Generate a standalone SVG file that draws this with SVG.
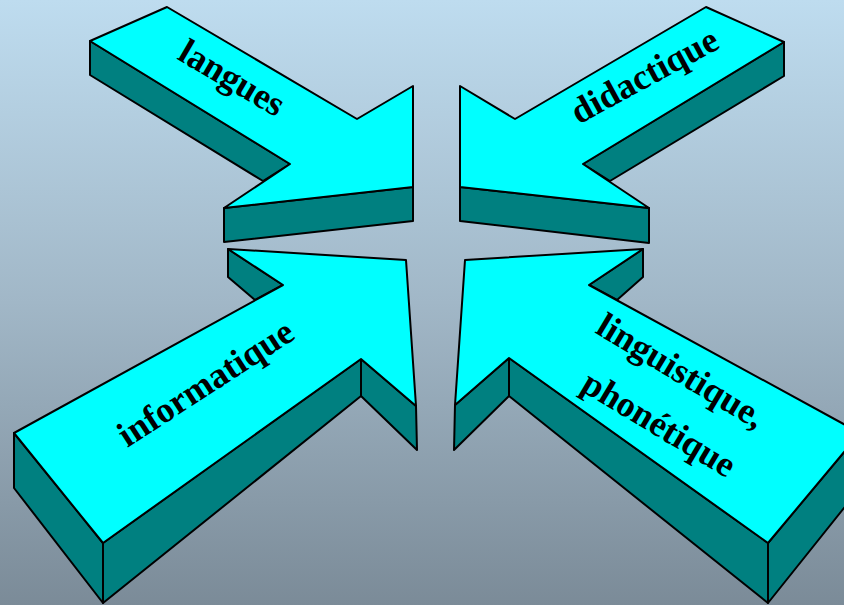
<svg xmlns="http://www.w3.org/2000/svg" width="844" height="605" viewBox="0 0 844 605">
<defs>
<linearGradient id="bg" x1="0" y1="0" x2="0" y2="1">
<stop offset="0" stop-color="#bedcef"/>
<stop offset="0.5" stop-color="#a1b7c7"/>
<stop offset="1" stop-color="#7b8b98"/>
</linearGradient>
</defs>
<style>
.top{fill:#00ffff;stroke:#000;stroke-width:2;stroke-linejoin:round}
.side{fill:#008080;stroke:#000;stroke-width:2;stroke-linejoin:round}
.lbl{font-family:"Liberation Serif","Times New Roman",serif;font-weight:bold;font-size:36px;fill:#000;text-anchor:middle}
</style>
<rect x="0" y="0" width="844" height="605" fill="url(#bg)"/>
<g id="connectors"></g>
<g id="arrow-langues">
<polygon class="side" points="90,41 290,164 263,181 90,75"/>
<polygon class="side" points="224,208 413,187 413,221 224,242"/>
<polygon class="top" points="90,41 167,7 357,119 413,86 413,187 224,208 290,164"/>
<text class="lbl" transform="translate(226,88) rotate(30.5)">langues</text>
</g>
<g id="arrow-didactique">
<polygon class="side" points="784,42 583,164 610,181 784,76"/>
<polygon class="side" points="649,208 460,187 460,221 649,243"/>
<polygon class="top" points="706,7 784,42 583,164 649,208 460,187 460,86 515,119"/>
<text class="lbl" transform="translate(650,86) rotate(-28.5)">didactique</text>
</g>
<g id="arrow-informatique">
<polygon class="side" points="14,433 103,543 103,603 14,488"/>
<polygon class="side" points="103,543 361,359 361,396 103,603"/>
<polygon class="side" points="361,359 416,406 417,450 361,396"/>
<polygon class="side" points="228,249 283,285 255,300 228,277"/>
<polygon class="top" points="14,433 103,543 361,359 416,406 406,260 228,249 283,285"/>
<text class="lbl" transform="translate(212,393) rotate(-33)">informatique</text>
</g>
<g id="arrow-linguistique">
<polygon class="side" points="768,543 860,433 860,488 768,603"/>
<polygon class="side" points="509,358 768,543 768,603 509,396"/>
<polygon class="side" points="455,405 509,358 509,396 454,450"/>
<polygon class="side" points="643,249 643,277 617,300 589,285"/>
<polygon class="top" points="465,260 643,249 589,285 860,433 768,543 509,358 455,405"/>
<text class="lbl" transform="translate(675,381) rotate(31)">linguistique,</text>
<text class="lbl" transform="translate(653,434) rotate(31)">phonétique</text>
</g>
</svg>
